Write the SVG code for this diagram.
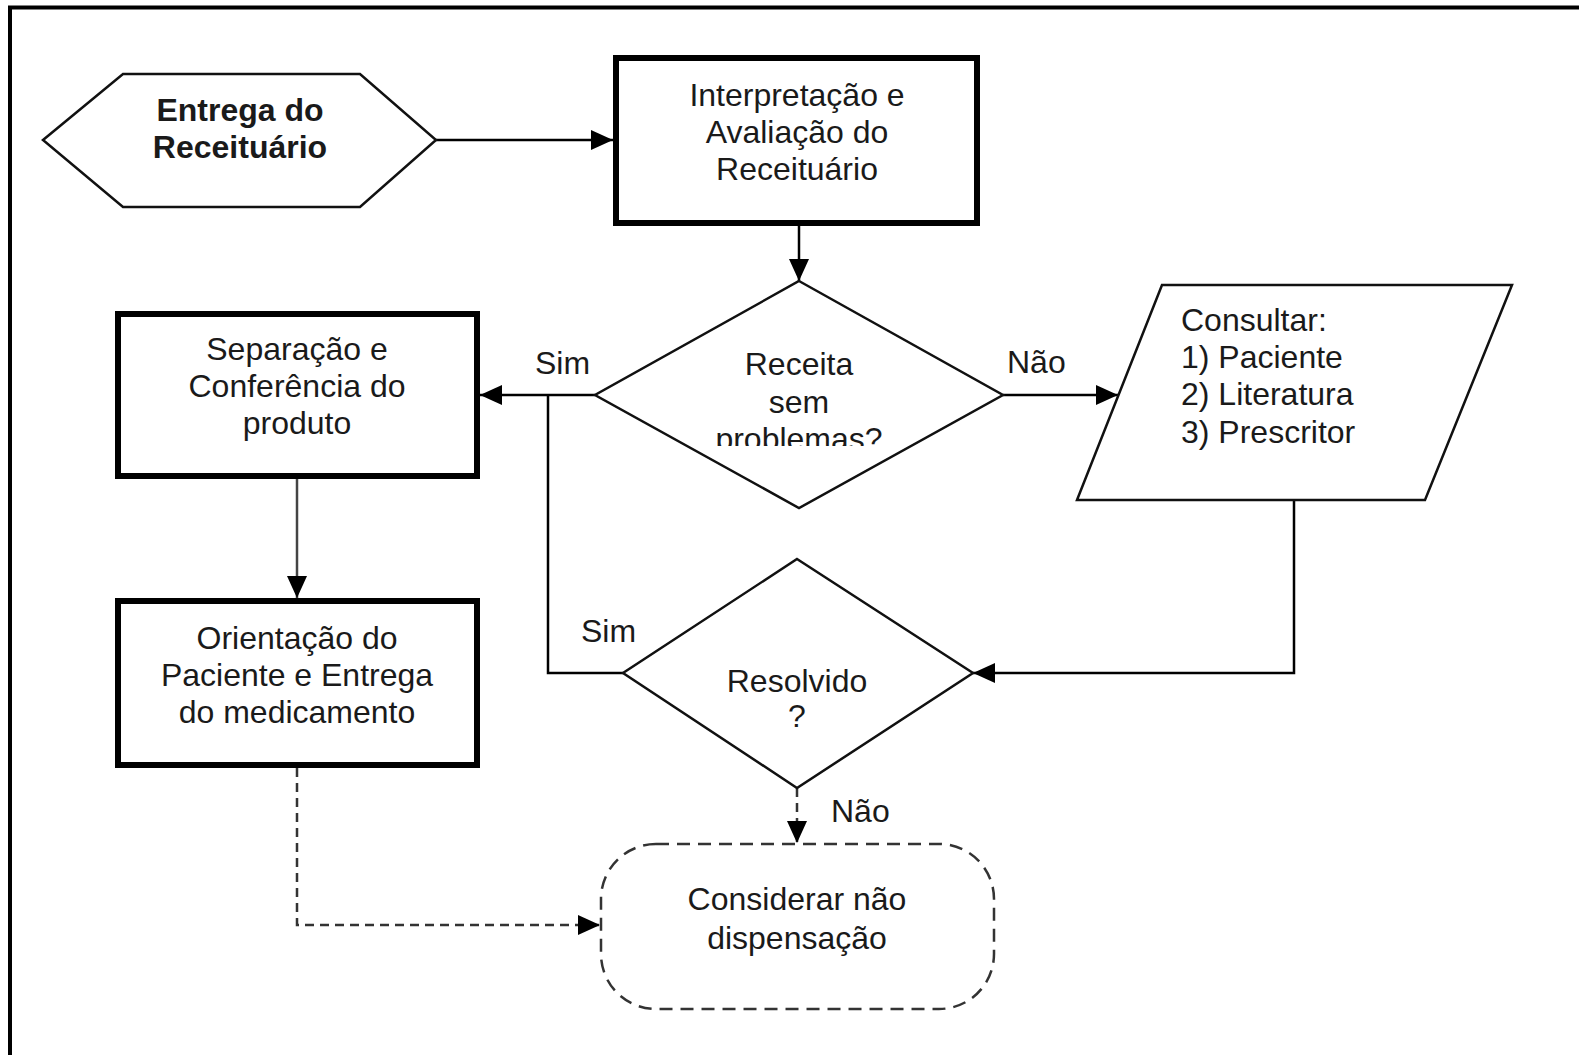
<svg xmlns="http://www.w3.org/2000/svg" width="1579" height="1055" viewBox="0 0 1579 1055">
<style>
text{font-family:"Liberation Sans",Arial,sans-serif;font-size:32px;fill:#1a1a1a;}
.c{text-anchor:middle;}
.b{font-weight:bold;}
.box{fill:#fff;stroke:#000;stroke-width:6;}
.shape{fill:#fff;stroke:#111;stroke-width:2.5;}
.ln{fill:none;stroke:#000;stroke-width:2.5;}
.dash{fill:none;stroke:#333;stroke-width:2.5;stroke-dasharray:9 6;}
</style>
<defs>
<marker id="arr" viewBox="0 0 22 20" refX="22" refY="10" markerWidth="22" markerHeight="20" markerUnits="userSpaceOnUse" orient="auto">
<path d="M0,0 L22,10 L0,20 z" fill="#000"/>
</marker>
<clipPath id="clipD1"><rect x="600" y="280" width="400" height="166"/></clipPath>
<clipPath id="clipD2"><rect x="620" y="560" width="350" height="169"/></clipPath>
</defs>
<path d="M10,1055 V7.5 H1579" fill="none" stroke="#000" stroke-width="4"/>

<g id="connectors">
<line class="ln" x1="436" y1="140" x2="613" y2="140" marker-end="url(#arr)"/>
<line class="ln" x1="799" y1="226" x2="799" y2="281" marker-end="url(#arr)"/>
<line class="ln" x1="595" y1="395" x2="480" y2="395" marker-end="url(#arr)"/>
<polyline class="ln" points="623,673 548,673 548,395"/>
<line class="ln" x1="1003" y1="395" x2="1118" y2="395" marker-end="url(#arr)"/>
<polyline class="ln" points="1294,500 1294,673 973,673" marker-end="url(#arr)"/>
<line class="ln" x1="297" y1="479" x2="297" y2="598" style="stroke:#444" marker-end="url(#arr)"/>
<line class="dash" x1="797" y1="788" x2="797" y2="843" marker-end="url(#arr)"/>
<polyline class="dash" points="297,768 297,925 600,925" marker-end="url(#arr)"/>
<text x="535" y="374">Sim</text>
<text x="1007" y="373">Não</text>
<text x="581" y="642">Sim</text>
<text x="831" y="822">Não</text>
</g>

<g id="n-entrega">
<polygon class="shape" points="43,140 123,74 360,74 436,140 360,207 123,207" stroke="#333"/>
<text class="c b" x="240" y="121">Entrega do</text>
<text class="c b" x="240" y="158">Receituário</text>
</g>

<g id="n-interpretacao">
<rect class="box" x="616" y="58" width="361" height="165"/>
<text class="c" x="797" y="106">Interpretação e</text>
<text class="c" x="797" y="143">Avaliação do</text>
<text class="c" x="797" y="180">Receituário</text>
</g>

<g id="n-receita">
<polygon class="shape" points="799,281 1003,395 799,508 595,395"/>
<g clip-path="url(#clipD1)">
<text class="c" x="799" y="375">Receita</text>
<text class="c" x="799" y="413">sem</text>
<text class="c" x="799" y="450">problemas?</text>
</g>
</g>

<g id="n-consultar">
<polygon class="shape" points="1162,285 1512,285 1425,500 1077,500"/>
<text x="1181" y="331">Consultar:</text>
<text x="1181" y="368">1) Paciente</text>
<text x="1181" y="405">2) Literatura</text>
<text x="1181" y="443">3) Prescritor</text>
</g>

<g id="n-separacao">
<rect class="box" x="118" y="314" width="359" height="162"/>
<text class="c" x="297" y="360">Separação e</text>
<text class="c" x="297" y="397">Conferência do</text>
<text class="c" x="297" y="434">produto</text>
</g>

<g id="n-orientacao">
<rect class="box" x="118" y="601" width="359" height="164"/>
<text class="c" x="297" y="649">Orientação do</text>
<text class="c" x="297" y="686">Paciente e Entrega</text>
<text class="c" x="297" y="723">do medicamento</text>
</g>

<g id="n-resolvido">
<polygon class="shape" points="797,559 973,673 797,788 623,673"/>
<g clip-path="url(#clipD2)">
<text class="c" x="797" y="692">Resolvido</text>
<text class="c" x="797" y="727">?</text>
</g>
</g>

<g id="n-considerar">
<rect x="601" y="844" width="393" height="165" rx="55" ry="55" fill="#fff" stroke="#333" stroke-width="2.5" stroke-dasharray="13 8"/>
<text class="c" x="797" y="910">Considerar não</text>
<text class="c" x="797" y="949">dispensação</text>
</g>
</svg>
